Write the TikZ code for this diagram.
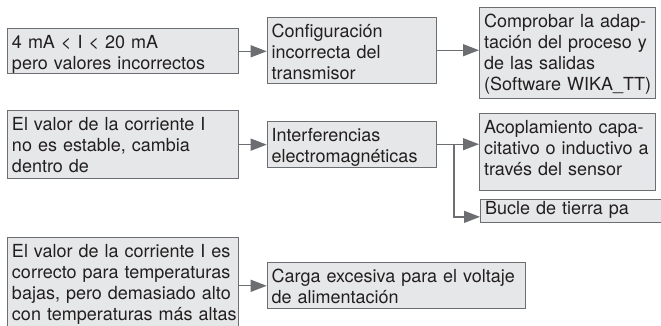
\documentclass[tikz,border=0pt]{standalone}
\usepackage{fontspec}
\setmainfont{TeX Gyre Heros}
\usetikzlibrary{arrows.meta}
\definecolor{boxfill}{HTML}{E6E7E8}
\definecolor{boxline}{HTML}{6D6E71}
\definecolor{txt}{HTML}{231F20}
\begin{document}
\begin{tikzpicture}[x=1pt,y=-1pt,
  box/.style={draw=boxline, fill=boxfill, line width=1pt, anchor=north west,
    inner xsep=4.5pt, inner ysep=5pt, text height=15pt, align=left,
    font=\fontsize{18}{21}\selectfont, text=txt},
  arr/.style={draw=boxline, line width=1.3pt, -{Triangle[length=16pt,width=12pt]}}]
\useasboundingbox (0,0) rectangle (661,325);
% row 1
\node[box, text width=222.3pt, text depth=20pt] (A1) at (7,28.3)
  {\mbox{4 mA < I < 20 mA}\\\mbox{pero valores incorrectos}};
\node[box, text width=160.3pt, text depth=41pt] (B1) at (266.7,16.7)
  {\mbox{Configuración}\\\mbox{incorrecta del}\\\mbox{transmisor}};
\node[box, text width=167pt, text depth=66.6pt] (C1) at (479,6.7)
  {\mbox{Comprobar la adap-}\\\mbox{tación del proceso y}\\\mbox{de las salidas}\\\mbox{(Software WIKA\_TT)}};
% row 2
\node[box, text width=222.3pt, text depth=43.3pt] (A2) at (7,110)
  {\mbox{El valor de la corriente I}\\\mbox{no es estable, cambia}\\\mbox{dentro de}};
\node[box, text width=160.3pt, text depth=21pt] (B2) at (266.7,120.7)
  {\mbox{Interferencias}\\\mbox{electromagnéticas}};
\node[box, text width=167pt, text depth=52.3pt] (C2) at (479,112.7)
  {\mbox{Acoplamiento capa-}\\\mbox{citativo o inductivo a}\\\mbox{través del sensor}};
\node[box, text width=200pt, text height=10pt, text depth=2.7pt] (D2) at (480,199)
  {\mbox{Bucle de tierra pa}};
% row 3
\node[box, text width=222.3pt, text depth=70pt] (A3) at (7,236.7)
  {\mbox{El valor de la corriente I es}\\\mbox{correcto para temperaturas}\\\mbox{bajas, pero demasiado alto}\\\mbox{con temperaturas más altas}};
\node[box, text width=249.3pt, text depth=21pt] (B3) at (266.7,262.3)
  {\mbox{Carga excesiva para el voltaje}\\\mbox{de alimentación}};
% connectors
\draw[arr] (A1.east) -- (A1.east -| B1.west);
\draw[arr] (B1.east) -- (B1.east -| C1.west);
\draw[arr] (A2.east) -- (A2.east -| B2.west);
\draw[arr] (B2.east) -- (B2.east -| C2.west);
\draw[arr] ([xshift=17pt]B2.east) |- ([yshift=-6pt]D2.west);
\draw[arr] (A3.east |- B3.west) -- (B3.west);
\end{tikzpicture}
\end{document}
